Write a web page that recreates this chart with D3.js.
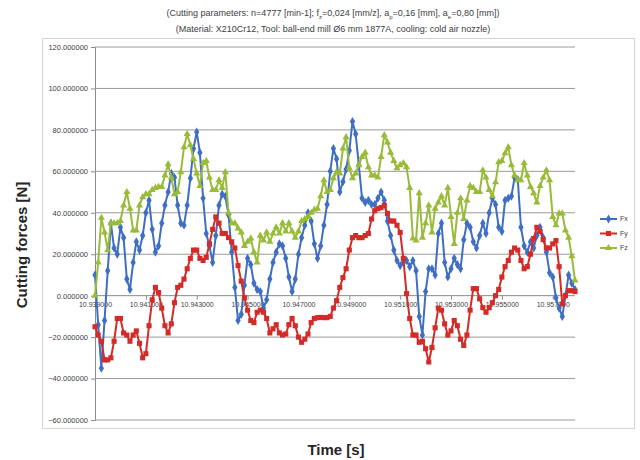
<!DOCTYPE html>
<html lang="en">

<head>
    <meta charset="UTF-8">
    <title>Cutting forces</title>

    <script src="https://d3js.org/d3.v7.min.js"></script>

    <style>
        body {
            margin: 0;
            background: #ffffff;
        }

        text {
            font-family: "Liberation Sans", Arial, sans-serif;
        }
    </style>

</head>

<body>
    <svg width="640" height="460"></svg>

    <script>
        // measured forces [N], one value per sample (dt = 0.000125 s)
        const fx = [10, -14, -35, -12, 12, 35, 23, 20, 33, 28,
            8, 3, 16, 26, 22, 29, 40, 46, 32, 21,
            24, 35, 43.6, 50, 59, 57, 43.6, 35, 34, 43.6,
            56.7, 71, 79, 69, 47, 30, 24, 16, 29, 43.6,
            49, 48, 39, 21, 4, -12, -9, 5, 18, 15,
            6, 3, 2, -6, -2, 8, 16, 21, 25, 24,
            18, 9, 2, 8, 20, 28, 34, 40, 36, 25,
            18, 24, 34, 44, 60, 71, 66, 50, 55, 61,
            70, 84, 78, 63, 47, 45, 46, 44, 44, 47,
            50, 46, 36, 29, 22, 17, 14.5, 16, 17, 14,
            17, 12, -10, -19, 2, 13, 13, 10, 30, 35,
            16, 9, 13, 18, 15, 13, 27, 35, 33, 26,
            23, 29, 35, 30, 40, 47, 44, 33, 31, 46,
            47, 48, 57, 56, 33, 24, 21, 26, 23, 29,
            33, 28, 21, 11, 9, -1, -6, -10, 0, 10,
            6, 3];

        const fy = [-15, -19, -22, -31, -31, -30, -22, -11, -11, -18,
            -19, -22, -19, -17, -23, -30, -28, -14.5, -2, 4,
            1.5, -6, -14.5, -18, -13.6, -3.4, 4, 5, 8, 13,
            18, 22, 22, 18, 17, 18.5, 25, 32, 38, 35,
            30, 30, 28, 26, 23, 14.5, 7, -1, -7, -12,
            -13, -8, -7, -8, -11, -18, -16, -14, -18, -19,
            -18.5, -14, -11, -14.5, -20, -22.5, -21, -18.5, -13, -11,
            -10.6, -10.5, -10.6, -10.6, -10, -6, -2.4, 4, 8.7, 13,
            22, 28, 29, 28, 28, 29, 30, 37, 41, 42,
            42.5, 43.6, 39.7, 36, 36, 34, 30.5, 18, 1, -11,
            -19, -19, -22.5, -22, -25.6, -32, -25, -15.5, -6, -7,
            -13.6, -19, -17, -12, -14.5, -21, -24, -19, -7, 3.4,
            3.4, -1.5, -5.8, -8, -5.8, -3.4, 0, 3, 9, 14,
            17, 21, 23, 22, 17, 13, 14, 20, 27.6, 33,
            31, 27, 23, 23, 25, 26.6, 14, -4, 0, 2.4,
            2.4, 2];

        const fz = [0, 16, 37.6, 30.5, 22, 35, 35, 35, 36, 43.6,
            50, 42, 31.5, 31.5, 43.6, 47.5, 49, 49, 51, 52,
            52.5, 52.5, 58, 63.4, 57, 49, 50, 59.6, 71.7, 78,
            72.6, 66, 59, 53, 64, 65, 57, 51, 51, 55.7,
            52, 59.6, 40, 35, 35, 32.5, 30.5, 24, 26, 27.6,
            21, 16, 29, 26.6, 30.5, 26, 30, 33, 30, 35,
            31, 35, 31, 28, 31, 36, 37, 38, 40, 41.5,
            42, 48, 55.7, 50, 51, 56.7, 59.6, 59, 71, 76.5,
            61.5, 56.7, 59, 63, 67, 69, 62, 58, 58, 57,
            67, 77.5, 74, 69, 65, 61.5, 63, 64, 62, 52,
            27.6, 26.6, 49.5, 28, 35, 43.6, 30.5, 42, 45, 48,
            43.6, 52, 38, 25, 40, 47, 37, 46, 53, 52,
            50, 50, 60.5, 57, 51, 48, 54.7, 64.4, 65, 68.7,
            71.7, 63, 58, 55.7, 55.7, 64, 58, 52.5, 49.5, 45,
            53, 57, 60.5, 55.7, 38, 34, 39.7, 39.7, 31.5, 28,
            19, 7.3];

        const seriesNames = ["Fx", "Fy", "Fz"];
        const seriesColors = ["#3F6EC2", "#D22B28", "#99BB3A"];
        const seriesMarkers = [d3.symbolDiamond, d3.symbolSquare, d3.symbolTriangle];
        const markerSizes = [24, 26, 22];

        // every 16th sample is labelled on the time axis
        const tickEvery = 16;
        const xTickLabels = ["10.939000", "10.941000", "10.943000", "10.945000", "10.947000",
            "10.949000", "10.951000", "10.953000", "10.955000", "10.957000"];
        const yTicks = [-60, -40, -20, 0, 20, 40, 60, 80, 100, 120];

        const svg = d3.select("svg");

        const plotLeft = 95, plotRight = 575, plotTop = 47, plotBottom = 420;

        const x = d3.scalePoint()
            .domain(d3.range(fx.length))
            .range([plotLeft, plotRight]);

        const y = d3.scaleLinear()
            .domain([-60, 120])
            .range([plotBottom, plotTop]);

        // chart frame
        svg.append("rect")
            .attr("x", 42.5).attr("y", 38.5)
            .attr("width", 592).attr("height", 390)
            .attr("fill", "none")
            .attr("stroke", "#d4d4d4");

        // titles
        const title = svg.append("g")
            .attr("font-size", "9px")
            .attr("fill", "#404040")
            .attr("text-anchor", "middle");

        const t1 = title.append("text").attr("x", 333).attr("y", 16);
        t1.append("tspan").text("(Cutting parameters: n=4777 [min-1]; f");
        t1.append("tspan").attr("baseline-shift", "sub").attr("font-size", "6px").text("z");
        t1.append("tspan").text("=0,024 [mm/z], a");
        t1.append("tspan").attr("baseline-shift", "sub").attr("font-size", "6px").text("p");
        t1.append("tspan").text("=0,16 [mm], a");
        t1.append("tspan").attr("baseline-shift", "sub").attr("font-size", "6px").text("e");
        t1.append("tspan").text("=0,80 [mm])");

        title.append("text").attr("x", 333).attr("y", 32)
            .text("(Material: X210Cr12, Tool: ball-end mill Ø6 mm 1877A, cooling: cold air nozzle)");

        // y axis with gridlines
        const yAxis = svg.append("g")
            .attr("transform", `translate(${plotLeft},0)`)
            .call(d3.axisLeft(y).tickValues(yTicks).tickSize(4).tickPadding(3)
                .tickFormat(d3.format(".6f")));
        yAxis.select(".domain").attr("stroke", "#8a8a8a");
        yAxis.selectAll(".tick line").attr("stroke", "#8a8a8a");
        yAxis.selectAll(".tick text")
            .attr("font-family", "Liberation Sans, Arial, sans-serif")
            .attr("font-size", "7.5px")
            .attr("fill", "#404040");

        svg.append("g")
            .selectAll("line")
            .data(yTicks.filter(d => d !== 0))
            .enter()
            .append("line")
            .attr("x1", plotLeft).attr("x2", plotRight)
            .attr("y1", d => y(d)).attr("y2", d => y(d))
            .attr("stroke", "#9a9a9a")
            .attr("stroke-width", 1);

        // category axis crossing at zero
        const xAxis = svg.append("g")
            .attr("transform", `translate(0,${y(0)})`)
            .call(d3.axisBottom(x)
                .tickValues(xTickLabels.map((d, i) => i * tickEvery))
                .tickSize(4).tickPadding(2)
                .tickFormat((d, i) => xTickLabels[i]));
        xAxis.select(".domain").attr("stroke", "#8a8a8a").attr("d", `M${plotLeft},0H${plotRight}`);
        xAxis.selectAll(".tick line").attr("stroke", "#8a8a8a");
        xAxis.selectAll(".tick text")
            .attr("font-family", "Liberation Sans, Arial, sans-serif")
            .attr("font-size", "7px")
            .attr("fill", "#404040");

        // series
        const line = d3.line()
            .x((d, i) => x(i))
            .y(d => y(d));

        [fx, fy, fz].forEach(function (values, s) {
            const g = svg.append("g");
            g.append("path")
                .datum(values)
                .attr("d", line)
                .attr("fill", "none")
                .attr("stroke", seriesColors[s])
                .attr("stroke-width", 2)
                .attr("stroke-linejoin", "round");

            g.selectAll("path.marker")
                .data(values)
                .enter()
                .append("path")
                .attr("class", "marker")
                .attr("d", d3.symbol().type(seriesMarkers[s]).size(markerSizes[s]))
                .attr("transform", (d, i) => `translate(${x(i)},${y(d)})`)
                .attr("fill", seriesColors[s]);
        });

        // legend
        const legend = svg.append("g")
            .selectAll("g")
            .data(seriesNames)
            .enter()
            .append("g")
            .attr("transform", (d, i) => `translate(600,${219 + i * 14.5})`);

        legend.append("line")
            .attr("x1", 0).attr("x2", 17)
            .attr("stroke", (d, i) => seriesColors[i])
            .attr("stroke-width", 2);

        legend.append("path")
            .attr("d", (d, i) => d3.symbol().type(seriesMarkers[i]).size(markerSizes[i])())
            .attr("transform", "translate(8.5,0)")
            .attr("fill", (d, i) => seriesColors[i]);

        legend.append("text")
            .attr("x", 20)
            .attr("dy", "0.35em")
            .attr("font-size", "7px")
            .attr("fill", "#404040")
            .text(d => d);

        // axis titles
        svg.append("text")
            .attr("transform", "translate(27,245) rotate(-90)")
            .attr("text-anchor", "middle")
            .attr("font-size", "15px")
            .attr("font-weight", "bold")
            .attr("fill", "#262626")
            .text("Cutting forces [N]");

        svg.append("text")
            .attr("x", 336)
            .attr("y", 455)
            .attr("text-anchor", "middle")
            .attr("font-size", "15px")
            .attr("font-weight", "bold")
            .attr("fill", "#262626")
            .text("Time [s]");
    </script>
</body>

</html>
